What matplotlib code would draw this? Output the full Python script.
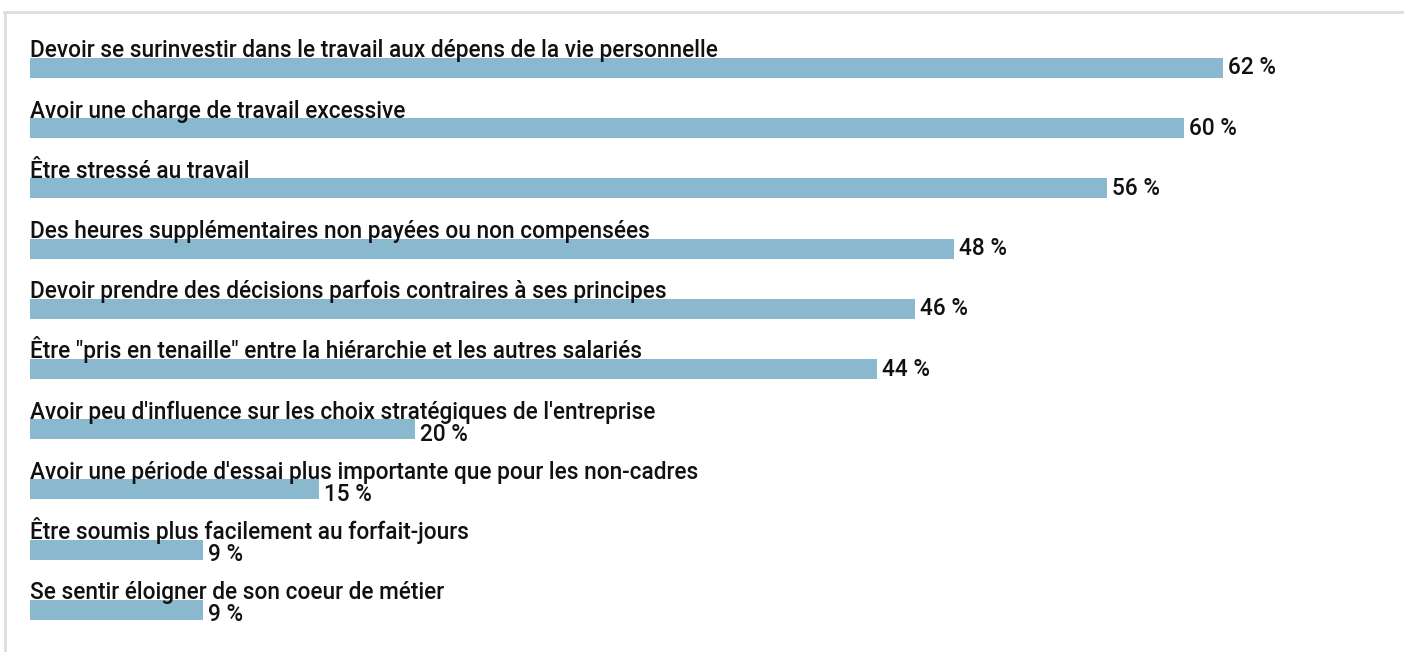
import matplotlib.pyplot as plt
from matplotlib.lines import Line2D

# data
labels = [
    "Devoir se surinvestir dans le travail aux dépens de la vie personnelle",
    "Avoir une charge de travail excessive",
    "Être stressé au travail",
    "Des heures supplémentaires non payées ou non compensées",
    "Devoir prendre des décisions parfois contraires à ses principes",
    "Être \"pris en tenaille\" entre la hiérarchie et les autres salariés",
    "Avoir peu d'influence sur les choix stratégiques de l'entreprise",
    "Avoir une période d'essai plus importante que pour les non-cadres",
    "Être soumis plus facilement au forfait-jours",
    "Se sentir éloigner de son coeur de métier",
]
values = [62, 60, 56, 48, 46, 44, 20, 15, 9, 9]

bar_color = "#8ab8cf"
plt.rcParams['font.family'] = ['Roboto', 'DejaVu Sans']

fig = plt.figure(figsize=(14.05, 6.52), dpi=100)
ax = fig.add_axes([0, 0, 1, 1])

px = 19.24  # pixels per percent
ax.set_xlim(-30 / px, (1405 - 30) / px)
step = 60.2
ax.set_ylim((652 - 68) / step, -68 / step)
h = 20 / step

ypos = list(range(len(values)))
ax.barh(ypos, values, height=h, color=bar_color, zorder=1)

for y, lab, v in zip(ypos, labels, values):
    ax.text(0, y - h / 2 - 0.01, lab, fontsize=16.3, color="#111111",
            fontweight='medium', va='baseline', ha='left', zorder=3)
    dy = 0.08 if v < 30 else 0.0
    ax.text(v + 5 / px, y + dy, f"{v} %", fontsize=16.3, color="#111111",
            fontweight='medium', va='center', ha='left', zorder=3)

ax.axis('off')

# light frame on top and left
fig.add_artist(Line2D([4 / 1405, 1402 / 1405], [1 - 11.5 / 652] * 2,
                      color="#dddddd", lw=2, transform=fig.transFigure))
fig.add_artist(Line2D([4.5 / 1405] * 2, [0, 1 - 11.5 / 652],
                      color="#dddddd", lw=2, transform=fig.transFigure))

fig.savefig("out.png", dpi=100)
